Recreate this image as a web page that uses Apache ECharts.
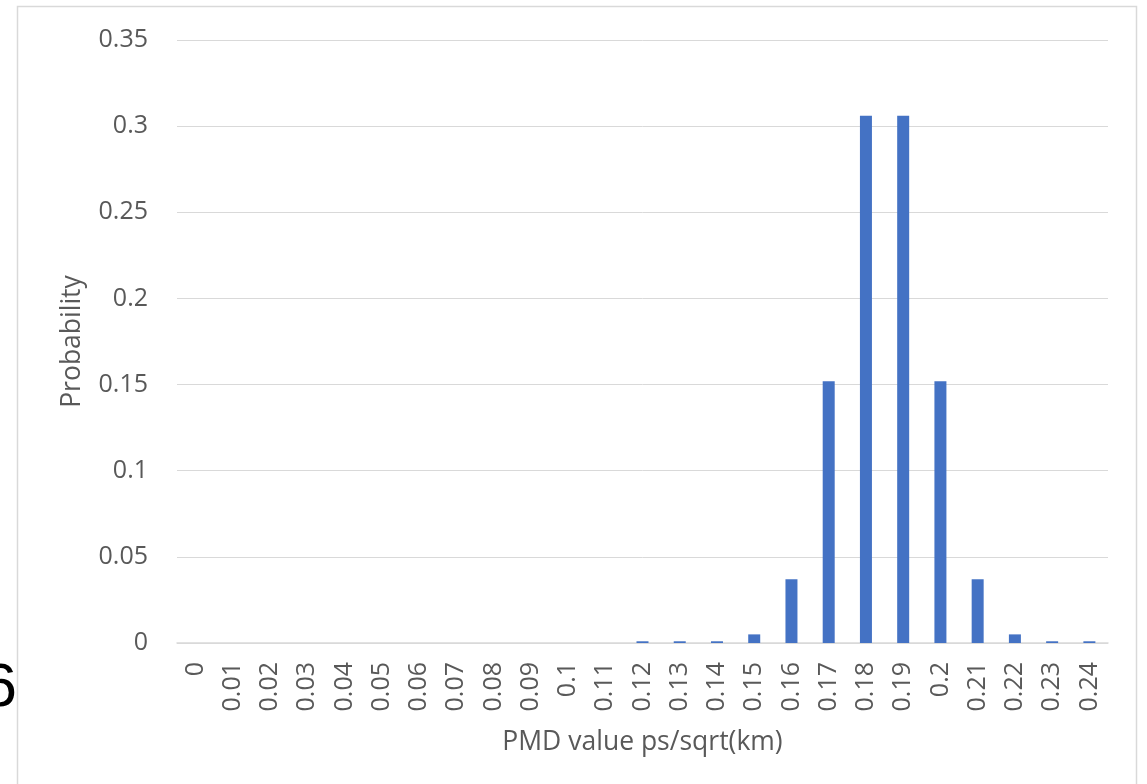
<!DOCTYPE html>
<html>
<head>
<meta charset="utf-8">
<script src="https://cdn.jsdelivr.net/npm/echarts@6/dist/echarts.min.js"></script>
<style>
html,body{margin:0;padding:0;background:#fff;}
#chart{width:1147px;height:784px;}
</style>
</head>
<body>
<div id="chart"></div>
<script>
// Data
var categories = ['0','0.01','0.02','0.03','0.04','0.05','0.06','0.07','0.08','0.09','0.1','0.11','0.12','0.13','0.14','0.15','0.16','0.17','0.18','0.19','0.2','0.21','0.22','0.23','0.24'];
var probability = [0,0,0,0,0,0,0,0,0,0,0,0,0.001,0.001,0.001,0.005,0.037,0.152,0.306,0.306,0.152,0.037,0.005,0.001,0.001];
var yTicks = [0,0.05,0.1,0.15,0.2,0.25,0.3,0.35];
var xTitle = 'PMD value ps/sqrt(km)';
var yTitle = 'Probability';

var FONT = '"Open Sans", "Noto Sans", sans-serif';
var chart = echarts.init(document.getElementById('chart'), null, {renderer:'canvas'});
chart.setOption({
  animation:false,
  backgroundColor:'#ffffff',
  graphic:[
    {type:'rect', shape:{x:17.5,y:6.5,width:1119,height:800}, style:{fill:'none',stroke:'#d9d9d9',lineWidth:1.5}, silent:true},
    {type:'text', style:{text:'6', x:17, y:720, textAlign:'right', textVerticalAlign:'bottom', fontSize:62, fontFamily:'"Liberation Sans", sans-serif', fill:'#000'}}
  ],
  grid:{left:177,right:39,top:40,bottom:141,containLabel:false},
  xAxis:{
    type:'category',
    data:categories,
    name:xTitle,
    nameLocation:'middle',
    nameGap:86,
    nameTextStyle:{fontSize:26.5,color:'#595959',fontFamily:FONT},
    axisLine:{lineStyle:{color:'#d9d9d9',width:1.5}},
    axisTick:{show:false},
    axisLabel:{rotate:90,interval:0,margin:19,fontSize:25,color:'#595959',fontFamily:FONT}
  },
  yAxis:{
    type:'value',
    min:yTicks[0],
    max:yTicks[yTicks.length-1],
    interval:0.05,
    name:yTitle,
    nameLocation:'middle',
    nameGap:91,
    nameTextStyle:{fontSize:26.5,color:'#595959',fontFamily:FONT},
    axisLine:{show:false},
    axisTick:{show:false},
    splitLine:{lineStyle:{color:'#d9d9d9',width:1}},
    axisLabel:{margin:29,fontSize:25,color:'#595959',fontFamily:FONT,
      formatter:function(v){return String(parseFloat(v.toFixed(2)));}}
  },
  series:[{
    type:'bar',
    data:probability,
    barWidth:12,
    itemStyle:{color:'#4472C4'}
  }]
});
</script>
</body>
</html>
